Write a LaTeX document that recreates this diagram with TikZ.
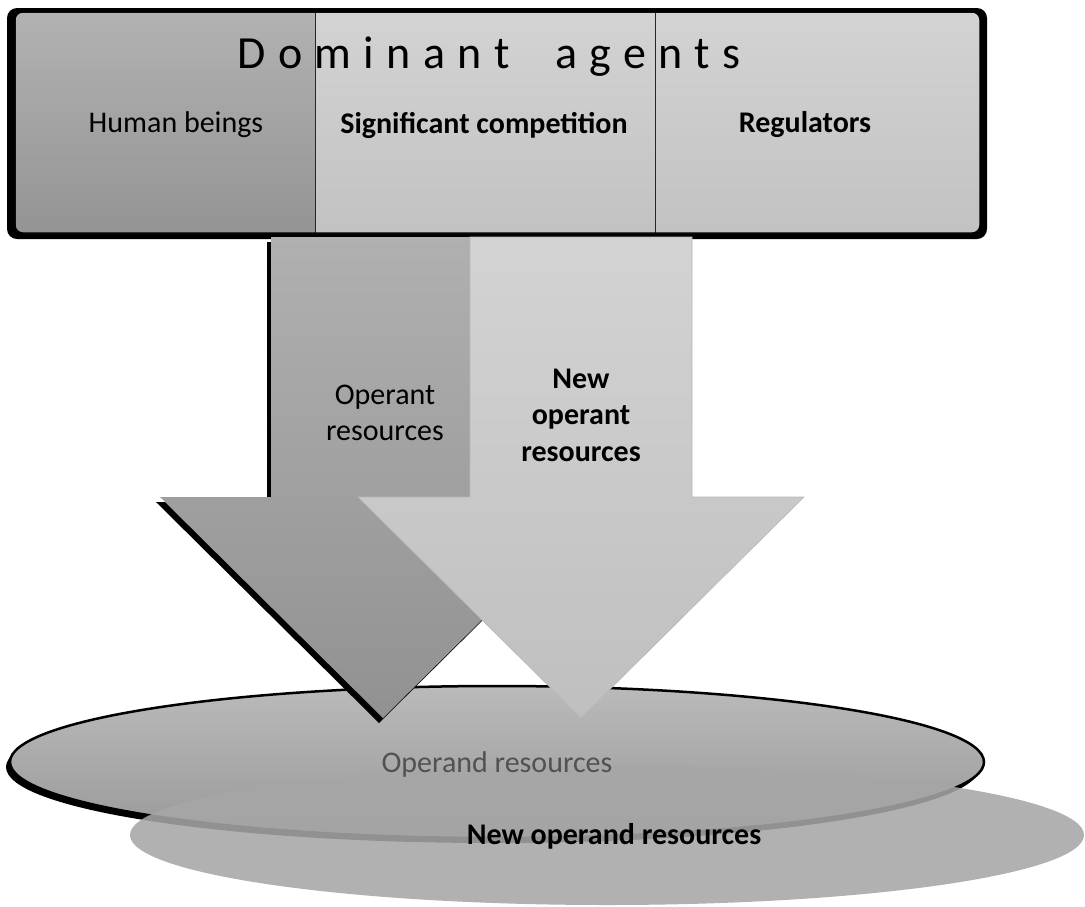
\documentclass[tikz,border=0pt]{standalone}
\usepackage{fontspec}
\setmainfont{Carlito}
\usepackage{xcolor}
\usetikzlibrary{shadows, shapes.geometric}

\definecolor{sectiondark}{HTML}{B2B2B2}
\definecolor{sectiondarkend}{HTML}{949494}
\definecolor{sectionlight}{HTML}{D3D3D3}
\definecolor{sectionlightend}{HTML}{C2C2C2}
\definecolor{operandgray}{HTML}{A6A6A6}

\begin{document}
\begin{tikzpicture}[x=1pt, y=-1pt, font=\fontsize{30}{36.5}\selectfont,
  section/.style={draw=black!85, line width=0.8pt, minimum height=221pt, inner sep=0pt},
  dark section/.style={section, top color=sectiondark, bottom color=sectiondarkend},
  light section/.style={section, top color=sectionlight, bottom color=sectionlightend},
  black shadow/.style={drop shadow={shadow xshift=-4pt, shadow yshift=-5pt, opacity=1, fill=black}},
  dark arrow/.style={top color=black!31, bottom color=black!43, black shadow},
  light arrow/.style={top color=sectionlight, bottom color=black!25, draw=black!28, line width=0.6pt},
  label text/.style={align=center, inner sep=0pt},
  bold text/.style={label text, font=\fontsize{30}{36.5}\selectfont\bfseries}]
\useasboundingbox (0,0) rectangle (1085,906);

% dominant agents
\fill[black, rounded corners=10pt] (7,8) rectangle (987,239);
\begin{scope}
  \clip[rounded corners=8pt] (15,12) rectangle (980,233);
  \node[dark section, minimum width=300pt] (human) at (165,122.5) {};
  \node[light section, minimum width=340pt] (competition) at (485,122.5) {};
  \node[light section, minimum width=325pt] (regulators) at (817.5,122.5) {};
\end{scope}
\draw[rounded corners=8pt, line width=1.2pt] (15,12) rectangle (980,233);
\node[label text] (title) at (489,57) {\fontsize{46}{50}\selectfont\addfontfeature{LetterSpace=27}Dominant\ \ agents};
\node[label text] (humantext) at (176,125) {Human beings};
\node[bold text] (competitiontext) at (484,125) {Significant competition};
\node[bold text] (regulatorstext) at (805,125) {Regulators};

% operand resources
\node[ellipse, minimum width=974pt, minimum height=152pt, draw=black, line width=2.5pt,
  top color=black!27, bottom color=black!40, black shadow] (operand) at (497,762) {};
\node[ellipse, minimum width=954pt, minimum height=140pt, fill=operandgray, fill opacity=0.88,
  text opacity=1] (newoperand) at (607,835) {};
\node[label text, text=black!68] (operandtext) at (497,764) {Operand resources};
\node[bold text] (newoperandtext) at (614,836) {New operand resources};

% operant resources
\path[dark arrow] (271,237) -- (495,237) -- (495,497) -- (606,497) -- (383,718) -- (160,497) -- (271,497) -- cycle;
\path[light arrow] (470,237) -- (692,237) -- (692,497) -- (804,497) -- (581,718) -- (358,497) -- (470,497) -- cycle;
\node[label text] (operant) at (385,413) {Operant\\resources};
\node[bold text] (newoperant) at (581,415) {New\\operant\\resources};
\end{tikzpicture}
\end{document}
